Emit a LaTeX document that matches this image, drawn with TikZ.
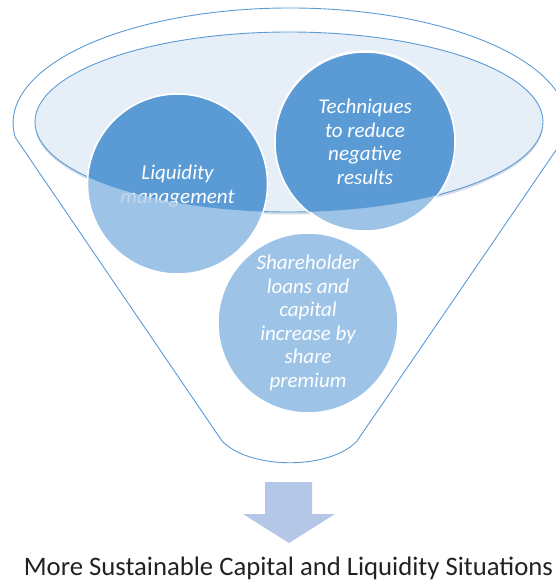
\documentclass[tikz,border=0pt]{standalone}
\usepackage{fontspec}
\setmainfont{Carlito}
\definecolor{dkblue}{HTML}{5B9BD5}
\definecolor{ltblue}{HTML}{9DC3E6}
\definecolor{ellfill}{HTML}{E6EEF8}
\definecolor{ellshadow}{HTML}{D5DCE6}
\definecolor{arrowblue}{HTML}{B4C7E7}
\definecolor{linecol}{HTML}{5B9BD5}
\definecolor{txtcol}{HTML}{222222}
\tikzset{
  bubbletext/.style={font=\itshape\fontsize{21}{23.5}\selectfont, text=white, align=center},
  bubble/.style={circle, minimum size=180pt, inner sep=0pt, draw=white, line width=1.5pt, bubbletext},
  outline/.style={draw=linecol, line width=0.9pt},
  result/.style={font=\fontsize{26.7}{32}\selectfont, text=txtcol, inner sep=0pt},
}
\begin{document}
\begin{tikzpicture}[x=1pt,y=1pt]
\useasboundingbox (0,0) rectangle (556,-581);
% outer funnel
\draw[outline, line join=round] (15,-137) -- (222,-441)
  .. controls (250,-470) and (330,-470) .. (357,-441) -- (565,-137)
  arc[start angle=-7, end angle=187, x radius=277pt, y radius=115pt] -- cycle;
% inner ellipse (mouth)
\fill[ellshadow] (289,-124.5) ellipse [x radius=254pt, y radius=90pt];
\filldraw[fill=ellfill, outline] (289,-122) ellipse [x radius=254pt, y radius=90pt];
% circles, lower (outside the mouth) part
\node[bubble, fill=ltblue] (liq) at (177.5,-184) {};
\node[bubbletext, inner sep=0pt, text opacity=0.35] (liqfaint) at ([yshift=-2pt]liq.center) {Liquidity\\management};
\node[bubble, fill=ltblue] (tech) at (365,-141) {};
\node[bubble, fill=ltblue] (share) at (308,-323) {Shareholder\\loans and\\capital\\increase by\\share\\premium};
% circles, part inside the mouth
\begin{scope}
  \clip (289,-122) ellipse [x radius=254pt, y radius=90pt];
  \node[bubble, fill=dkblue] (liqtop) at (liq) {};
  \node[bubbletext, inner sep=0pt] (liqtext) at ([yshift=-2pt]liq.center) {Liquidity\\management};
  \node[bubble, fill=dkblue] (techtop) at ([yshift=-1pt]tech.center) {Techniques\\to reduce\\negative\\results};
\end{scope}
% arrow
\fill[arrowblue] (265,-482) -- (312,-482) -- (312,-514) -- (335,-514) -- (289,-543)
  -- (243,-514) -- (265,-514) -- cycle;
\node[result, anchor=base] (res) at (288.5,-575.5) {More Sustainable Capital and Liquidity Situations};
\end{tikzpicture}
\end{document}
